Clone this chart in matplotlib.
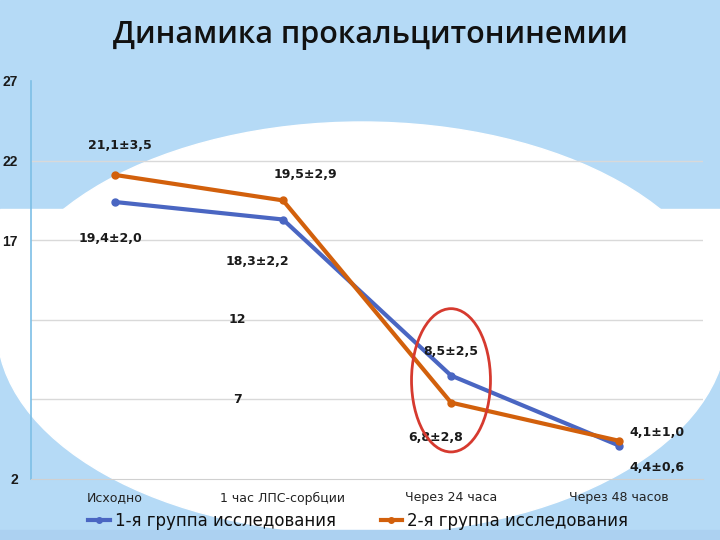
import matplotlib
matplotlib.use("Agg")
import matplotlib.pyplot as plt
from matplotlib.patches import Ellipse, Rectangle

# data
categories = ["Исходно", "1 час ЛПС-сорбции", "Через 24 часа", "Через 48 часов"]
group1 = [19.4, 18.3, 8.5, 4.1]
group2 = [21.1, 19.5, 6.8, 4.4]
labels1 = ["19,4±2,0", "18,3±2,2", "8,5±2,5", "4,1±1,0"]
labels2 = ["21,1±3,5", "19,5±2,9", "6,8±2,8", "4,4±0,6"]
series_names = ["1-я группа исследования", "2-я группа исследования"]
ytick_vals = [2, 17, 22, 27]
inner_ylabels = [12, 7]
grid_vals = [7, 12, 17, 22]

# label offsets in pixels from each point
offs1 = [(-5, -37), (-26, -42), (0, 24), (38, 13)]
offs2 = [(5, 29), (22, 26), (-15, -35), (38, -27)]

BLUE = "#4a66c2"
ORANGE = "#d2600c"
BG = "#b5daf6"

fig = plt.figure(figsize=(7.2, 5.4), dpi=100)

# slide background
bg = fig.add_axes([0, 0, 1, 1], zorder=-1)
bg.set_xlim(0, 720)
bg.set_ylim(540, 0)
bg.axis("off")
bg.add_patch(Rectangle((0, 0), 720, 540, color=BG))
bg.add_patch(Rectangle((0, 209), 720, 120, color="white"))
bg.add_patch(Ellipse((362, 328), 730, 412, color="white"))
bg.add_patch(Rectangle((0, 530), 720, 10, color="#acd1f1"))

fig.text(0.514, 1 - 35 / 540, "Динамика прокальцитонинемии", ha="center", va="center",
         fontsize=22, family="Open Sans", fontweight="semibold", color="#111111")

ax = fig.add_axes([31 / 720, 61 / 540, 672 / 720, 398 / 540])
ax.set_facecolor("none")
x = list(range(len(categories)))

for v in grid_vals:
    ax.axhline(v, color="#d9d9d9", lw=1, zorder=0)

l1, = ax.plot(x, group1, color=BLUE, lw=3, marker="o", ms=5, label=series_names[0])
l2, = ax.plot(x, group2, color=ORANGE, lw=3, marker="o", ms=5, label=series_names[1])

for xi, v, t, o in zip(x, group1, labels1, offs1):
    ax.annotate(t, (xi, v), xytext=o, textcoords="offset pixels", ha="center", va="center",
                fontsize=9, fontweight="bold", color="#1a1a1a")
for xi, v, t, o in zip(x, group2, labels2, offs2):
    ax.annotate(t, (xi, v), xytext=o, textcoords="offset pixels", ha="center", va="center",
                fontsize=9, fontweight="bold", color="#1a1a1a")

# red circle around the 24h point
ax.add_patch(Ellipse((2, 8.2), 0.47, 9.0, fill=False, edgecolor="#d63a2f", lw=2, zorder=5))

ax.set_xlim(-0.5, 3.5)
ax.set_ylim(2, 27)
ax.set_xticks(x)
ax.set_xticklabels(categories, fontsize=9, color="#222222")
ax.set_yticks(ytick_vals)
ax.set_yticklabels([str(v) for v in ytick_vals], fontsize=10, fontweight="bold",
                   family="Liberation Sans", color="#1a1a1a")
ax.tick_params(axis="both", length=0)
ax.tick_params(axis="y", pad=9.5)
ax.tick_params(axis="x", pad=9)

# the 12 and 7 labels sit inside the plot in the reference
for v in inner_ylabels:
    ax.text(0.73, v, str(v), ha="center", va="center", fontsize=9, fontweight="bold", color="#1a1a1a")

for s in ["top", "right"]:
    ax.spines[s].set_visible(False)
ax.spines["left"].set_color("#7dbfe6")
ax.spines["left"].set_linewidth(1.2)
ax.spines["bottom"].set_color("#d0d0d0")

fig.legend(handles=[l1, l2], loc="center", bbox_to_anchor=(358 / 720, 1 - 521 / 540), ncol=2,
           frameon=False, fontsize=12, handlelength=1.3, handletextpad=0.3, columnspacing=2.7,
           markerscale=0.8, labelcolor="#111111")

fig.savefig("out.png", dpi=100)
